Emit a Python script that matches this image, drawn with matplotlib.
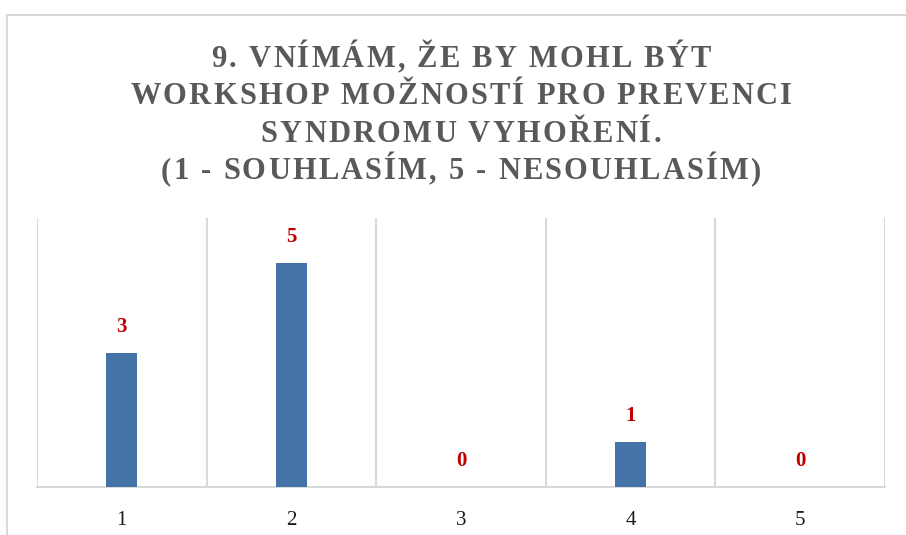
import matplotlib
matplotlib.use("Agg")
import matplotlib.pyplot as plt
from matplotlib.lines import Line2D

# Data
categories = ["1", "2", "3", "4", "5"]
counts = [3, 5, 0, 1, 0]
title_lines = [
    "9. VNÍMÁM, ŽE BY MOHL BÝT",
    "WORKSHOP MOŽNOSTÍ PRO PREVENCI",
    "SYNDROMU VYHOŘENÍ.",
    "(1 - SOUHLASÍM, 5 - NESOUHLASÍM)",
]

W, H = 906, 535
BAR_COLOR = "#4573A7"
LABEL_COLOR = "#C00000"
GRID_COLOR = "#D9D9D9"
TITLE_COLOR = "#595959"
SERIF = "Liberation Serif"

fig = plt.figure(figsize=(W / 100, H / 100), dpi=100)
renderer = fig.canvas.get_renderer()

# chart frame (only top and left edge visible in the crop)
fig.add_artist(Line2D([7 / W, 7 / W], [0, 1 - 15 / H], color="#D9D9D9", lw=1.5))
fig.add_artist(Line2D([7 / W, 1], [1 - 15 / H, 1 - 15 / H], color="#D9D9D9", lw=1.5))


def tracked_text(cx, baseline, s, size, spacing):
    """Draw centered text with extra letter spacing (pixels)."""
    widths = []
    for ch in s:
        if ch == " ":
            t = fig.text(0, 0, "a a", fontsize=size, family=SERIF, weight="bold")
            t2 = fig.text(0, 0, "aa", fontsize=size, family=SERIF, weight="bold")
            w = t.get_window_extent(renderer).width - t2.get_window_extent(renderer).width
            t.remove()
            t2.remove()
        else:
            t = fig.text(0, 0, ch, fontsize=size, family=SERIF, weight="bold")
            w = t.get_window_extent(renderer).width
            t.remove()
        widths.append(w)
    total = sum(widths) + spacing * (len(s) - 1)
    x = cx - total / 2
    for ch, w in zip(s, widths):
        if ch != " ":
            fig.text(x / W, 1 - baseline / H, ch, fontsize=size, family=SERIF,
                     weight="bold", color=TITLE_COLOR, va="baseline", ha="left")
        x += w + spacing


baselines = [67, 104, 142, 179]
for line, yb in zip(title_lines, baselines):
    tracked_text(461, yb, line, 22, 2.2)

# plot area
ax = fig.add_axes([37 / W, 48 / H, (885 - 37) / W, (487 - 218) / H])
x = range(len(categories))
bars = ax.bar(x, counts, width=0.185, color=BAR_COLOR, zorder=3)
ax.set_xlim(-0.5, len(categories) - 0.5)
ax.set_ylim(0, 6)

for xi, v in zip(x, counts):
    ax.annotate(str(v), (xi, v), xytext=(0, 26), textcoords="offset pixels",
                ha="center", va="center", fontsize=15, family=SERIF,
                weight="bold", color=LABEL_COLOR)

# vertical separators between categories
for b in [i - 0.5 for i in range(len(categories) + 1)]:
    ax.axvline(b, color=GRID_COLOR, lw=1.5, zorder=1)

for side in ["top", "left", "right"]:
    ax.spines[side].set_visible(False)
ax.spines["bottom"].set_color(GRID_COLOR)
ax.spines["bottom"].set_linewidth(1.5)

ax.set_yticks([])
ax.set_xticks(list(x))
ax.set_xticklabels(categories, fontsize=15, family=SERIF, color="#1a1a1a")
ax.tick_params(axis="x", length=0, pad=17)

fig.savefig("out.png", dpi=100)
